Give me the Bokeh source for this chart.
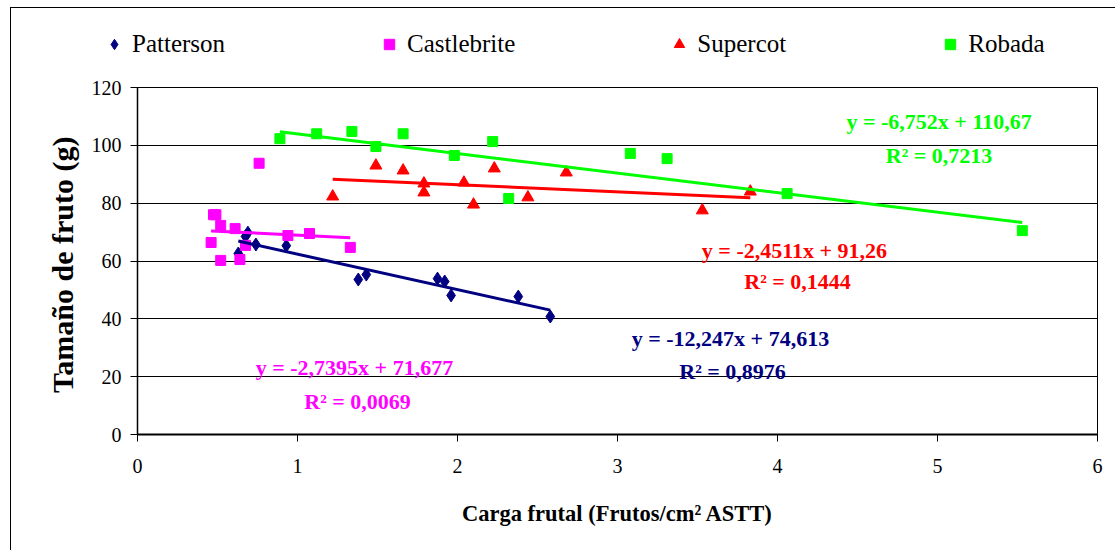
from bokeh.plotting import figure
from bokeh.layouts import column
from bokeh.models import Range1d, Legend, LegendItem, Label, FixedTicker, InlineStyleSheet
from bokeh.embed import file_html
from bokeh.resources import INLINE

# ---------------- data ----------------
series_names = ["Patterson", "Castlebrite", "Supercot", "Robada"]

patterson_x = [0.63, 0.675, 0.69, 0.74, 0.93, 1.38, 1.43, 1.875, 1.92, 1.96, 2.38, 2.58]
patterson_y = [62.6, 68.5, 69.8, 65.7, 65.3, 53.6, 55.3, 53.9, 52.9, 48.1, 47.7, 40.8]

castlebrite_x = [0.46, 0.475, 0.49, 0.52, 0.52, 0.61, 0.64, 0.675, 0.76, 0.94, 1.075, 1.33]
castlebrite_y = [66.4, 76.0, 76.0, 72.3, 60.2, 71.2, 60.5, 65.4, 93.8, 68.8, 69.5, 64.7]

supercot_x = [1.22, 1.49, 1.66, 1.79, 1.79, 2.04, 2.10, 2.23, 2.44, 2.68, 3.53, 3.83]
supercot_y = [82.3, 93.0, 91.3, 86.8, 83.7, 87.1, 79.5, 92.0, 82.0, 90.6, 77.5, 84.0]

robada_x = [0.89, 1.12, 1.34, 1.49, 1.66, 1.98, 2.22, 2.32, 3.08, 3.31, 4.06, 5.53]
robada_y = [102.3, 104.0, 104.8, 99.6, 104.0, 96.5, 101.3, 81.6, 97.2, 95.4, 83.3, 70.5]

slopes = [-12.247, -2.7395, -2.4511, -6.752]
intercepts = [74.613, 71.677, 91.26, 110.67]
eq_texts = ["y = -12,247x + 74,613", "y = -2,7395x + 71,677",
            "y = -2,4511x + 91,26", "y = -6,752x + 110,67"]
r2_texts = ["R\u00b2 = 0,8976", "R\u00b2 = 0,0069", "R\u00b2 = 0,1444", "R\u00b2 = 0,7213"]

x_ticks = [0, 1, 2, 3, 4, 5, 6]
y_ticks = [0, 20, 40, 60, 80, 100, 120]

x_label = "Carga frutal (Frutos/cm\u00b2 ASTT)"
y_label = "Tama\u00f1o de  fruto (g)"

# ---------------- styling / layout ----------------
colors = ["#000080", "#FF00FF", "#FF0000", "#00FF00"]
markers = ["diamond", "square", "triangle", "square"]
marker_sizes = [13, 10, 12, 10]
eq_pos = [(3.706, 33.2), (1.356, 23.2), (4.106, 63.6), (5.01, 108.2)]
r2_pos = [(3.719, 21.8), (1.375, 11.4), (4.125, 52.9), (5.01, 96.5)]
serif = "Liberation Serif"
W, TOP_H, MAIN_H = 1115, 67, 483
FRAME_LEFT = 137      # left edge of the plot frame, in pixels
LEGEND_LEFT = 101     # where the legend starts, in pixels
SHIFT = 40            # visual shift of the legend strip so it may start left of the frame

xs = [patterson_x, castlebrite_x, supercot_x, robada_x]
ys = [patterson_y, castlebrite_y, supercot_y, robada_y]

# ---- main chart ----
p = figure(width=W, height=MAIN_H, output_backend="svg", toolbar_location=None,
           x_range=Range1d(0, 6), y_range=Range1d(0, 120),
           min_border_left=FRAME_LEFT, min_border_right=18, min_border_top=20, min_border_bottom=116)
p.background_fill_color = "white"
p.border_fill_color = "white"
p.outline_line_color = "black"
p.outline_line_width = 1

p.xgrid.grid_line_color = None
p.ygrid.grid_line_color = "black"
p.ygrid.grid_line_width = 1
p.ygrid.ticker = FixedTicker(ticks=y_ticks)

p.xaxis.ticker = FixedTicker(ticks=x_ticks)
p.yaxis.ticker = FixedTicker(ticks=y_ticks)
p.xaxis.axis_line_color = "black"
p.yaxis.axis_line_color = "black"
p.xaxis.major_tick_line_color = "black"
p.yaxis.major_tick_line_color = "black"
p.xaxis.minor_tick_line_color = None
p.yaxis.minor_tick_line_color = None
p.xaxis.major_tick_in = 0
p.yaxis.major_tick_in = 0
p.xaxis.major_tick_out = 7
p.yaxis.major_tick_out = 7
p.xaxis.major_label_text_font = serif
p.yaxis.major_label_text_font = serif
p.xaxis.major_label_text_font_size = "20px"
p.yaxis.major_label_text_font_size = "20px"
p.xaxis.major_label_text_color = "black"
p.yaxis.major_label_text_color = "black"
p.xaxis.axis_label_text_font = serif
p.yaxis.axis_label_text_font = serif
p.xaxis.axis_label_text_font_style = "bold"
p.yaxis.axis_label_text_font_style = "bold"
p.xaxis.axis_label_text_color = "black"
p.yaxis.axis_label_text_color = "black"
p.xaxis.axis_line_width = 2
p.yaxis.axis_line_width = 1.5
p.xaxis.major_label_standoff = 17
p.yaxis.major_label_standoff = 9
p.xaxis.axis_label = x_label
p.yaxis.axis_label = y_label
p.xaxis.axis_label_text_font_size = "22.5px"
p.yaxis.axis_label_text_font_size = "30px"
p.xaxis.axis_label_standoff = 25
p.yaxis.axis_label_standoff = 10

for i in range(4):
    p.scatter(xs[i], ys[i], marker=markers[i], size=marker_sizes[i],
              fill_color=colors[i], line_color=colors[i])

for i in range(4):
    x0, x1 = min(xs[i]), max(xs[i])
    p.line([x0, x1], [slopes[i] * x0 + intercepts[i], slopes[i] * x1 + intercepts[i]],
           line_color=colors[i], line_width=3)

for i in range(4):
    p.add_layout(Label(x=eq_pos[i][0], y=eq_pos[i][1], text=eq_texts[i],
                       text_align="center", text_baseline="middle",
                       text_font=serif, text_font_style="bold", text_font_size="22px",
                       text_color=colors[i]))
    p.add_layout(Label(x=r2_pos[i][0], y=r2_pos[i][1], text=r2_texts[i],
                       text_align="center", text_baseline="middle",
                       text_font=serif, text_font_style="bold", text_font_size="22px",
                       text_color=colors[i]))

# ---- legend strip above the chart ----
shift_css = InlineStyleSheet(css=":host { transform: translateX(-%dpx); }" % SHIFT)
top = figure(width=W, height=TOP_H, output_backend="svg", toolbar_location=None,
             x_range=Range1d(0, 1), y_range=Range1d(-1000, -999),
             x_axis_location=None, y_axis_location=None, min_border=0,
             stylesheets=[shift_css])
top.grid.visible = False
top.outline_line_color = None
top.background_fill_alpha = 0
top.border_fill_alpha = 0

legend_renderers = []
for i in range(4):
    # same series, outside this strip's ranges: only their legend glyphs show
    r = top.scatter(xs[i], ys[i], marker=markers[i], size=marker_sizes[i],
                    fill_color=colors[i], line_color=colors[i])
    legend_renderers.append(r)

legend = Legend(items=[LegendItem(label=series_names[i], renderers=[legend_renderers[i]]) for i in range(4)],
                orientation="horizontal", location=(LEGEND_LEFT - (FRAME_LEFT - SHIFT), 9),
                border_line_alpha=0, background_fill_alpha=0,
                padding=0, margin=0, spacing=151,
                glyph_width=26, glyph_height=26, label_standoff=5,
                label_text_font=serif, label_text_font_size="25px",
                label_text_color="black")
top.add_layout(legend, "center")

frame_css = InlineStyleSheet(css="""
:host::after {
  content: "";
  position: absolute;
  left: 10px; top: 7px; right: 0px; bottom: 0px;
  border-left: 1.5px solid black;
  border-top: 1.5px solid black;
  pointer-events: none;
  z-index: 100;
}
""")

layout = column(top, p, spacing=0, stylesheets=[frame_css])

open("out.html", "w").write(file_html(layout, INLINE))
